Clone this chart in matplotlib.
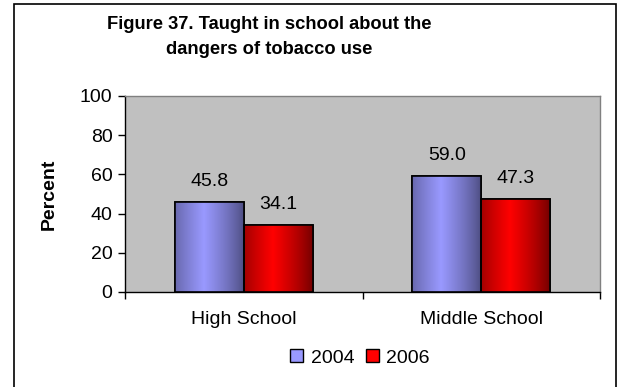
import numpy as np
import matplotlib
matplotlib.use("Agg")
import matplotlib.pyplot as plt
from matplotlib.patches import Rectangle
from matplotlib.colors import to_rgb

# Data
categories = ["High School", "Middle School"]
years = ["2004", "2006"]
values_2004 = [45.8, 59.0]
values_2006 = [34.1, 47.3]
yticks = [0, 20, 40, 60, 80, 100]

plt.rcParams["font.family"] = ["Liberation Sans", "DejaVu Sans"]
FS = 14

fig = plt.figure(figsize=(6.17, 3.87), dpi=100)
fig.patch.set_facecolor("white")

# Outer chart frame
fig.patches.append(Rectangle((13.5 / 617, -0.05), (615.5 - 13.5) / 617, 1.05 - 3.5 / 387,
                             transform=fig.transFigure, fill=False,
                             edgecolor="black", linewidth=1.2, zorder=0))

ax = fig.add_axes([125 / 617, (387 - 292) / 387, (600 - 125) / 617, (292 - 96) / 387])
ax.set_facecolor("#c0c0c0")

x = np.arange(len(categories))
width = 0.29
bars04 = ax.bar(x - width / 2, values_2004, width, color="#9999ff",
                edgecolor="black", linewidth=1.2, zorder=3)
bars06 = ax.bar(x + width / 2, values_2006, width, color="#ff0000",
                edgecolor="black", linewidth=1.2, zorder=3)


def shade(bars, dark, light):
    t = np.linspace(0, 1, 200)
    f = np.clip(1 - np.abs(t - 0.42) / 0.58, 0, 1) ** 0.8
    d = np.array(to_rgb(dark))
    l = np.array(to_rgb(light))
    row = d[None, :] + (l - d)[None, :] * f[:, None]
    img = row[None, :, :]
    for b in bars:
        x0, y0 = b.get_x(), b.get_y()
        w, h = b.get_width(), b.get_height()
        im = ax.imshow(img, extent=[x0, x0 + w, y0, y0 + h], aspect="auto",
                       zorder=3.5, interpolation="bilinear")
        im.set_clip_path(b)
        ax.add_patch(Rectangle((x0, y0), w, h, fill=False, edgecolor="black",
                               linewidth=1.2, zorder=4))


shade(bars04, "#4d4d80", "#9999ff")
shade(bars06, "#700000", "#ff0000")

for bars in (bars04, bars06):
    for b in bars:
        v = b.get_height()
        ax.annotate(f"{v:.1f}", (b.get_x() + b.get_width() / 2, v),
                    xytext=(0, 9), textcoords="offset points",
                    ha="center", va="bottom", fontsize=FS, color="black")

ax.set_xlim(-0.5, 1.5)
ax.set_ylim(0, 100)
ax.set_yticks(yticks)
ax.set_yticklabels([str(v) for v in yticks], fontsize=FS)
ax.set_xticks([-0.5, 0.5, 1.5])
ax.set_xticklabels([])
ax.set_xticks(x, minor=True)
ax.set_xticklabels(categories, minor=True, fontsize=FS)
ax.tick_params(axis="x", which="minor", length=0, pad=14)
ax.tick_params(axis="x", which="major", length=5, width=1, color="black", direction="out")
ax.tick_params(axis="y", length=5, width=1, color="black", direction="out", pad=4)

for s in ("top", "right"):
    ax.spines[s].set_color("#808080")
    ax.spines[s].set_linewidth(1)
for s in ("left", "bottom"):
    ax.spines[s].set_color("black")
    ax.spines[s].set_linewidth(1)

ax.set_ylabel("Percent", fontsize=FS, fontweight="bold", labelpad=16)

fig.text(269 / 617, 1 - 37 / 387, "Figure 37. Taught in school about the\ndangers of tobacco use",
         ha="center", va="center", fontsize=13.2, fontweight="bold", linespacing=1.55)

leg_handles = [Rectangle((0, 0), 1, 1, facecolor="#9999ff", edgecolor="black"),
               Rectangle((0, 0), 1, 1, facecolor="#ff0000", edgecolor="black")]
fig.legend(leg_handles, years, loc="center", bbox_to_anchor=(360 / 617, 1 - 358 / 387),
           ncol=2, frameon=False, fontsize=FS, handlelength=0.65, handleheight=0.65,
           handletextpad=0.4, columnspacing=0.6, borderpad=0)

fig.savefig("out.png", dpi=100)
